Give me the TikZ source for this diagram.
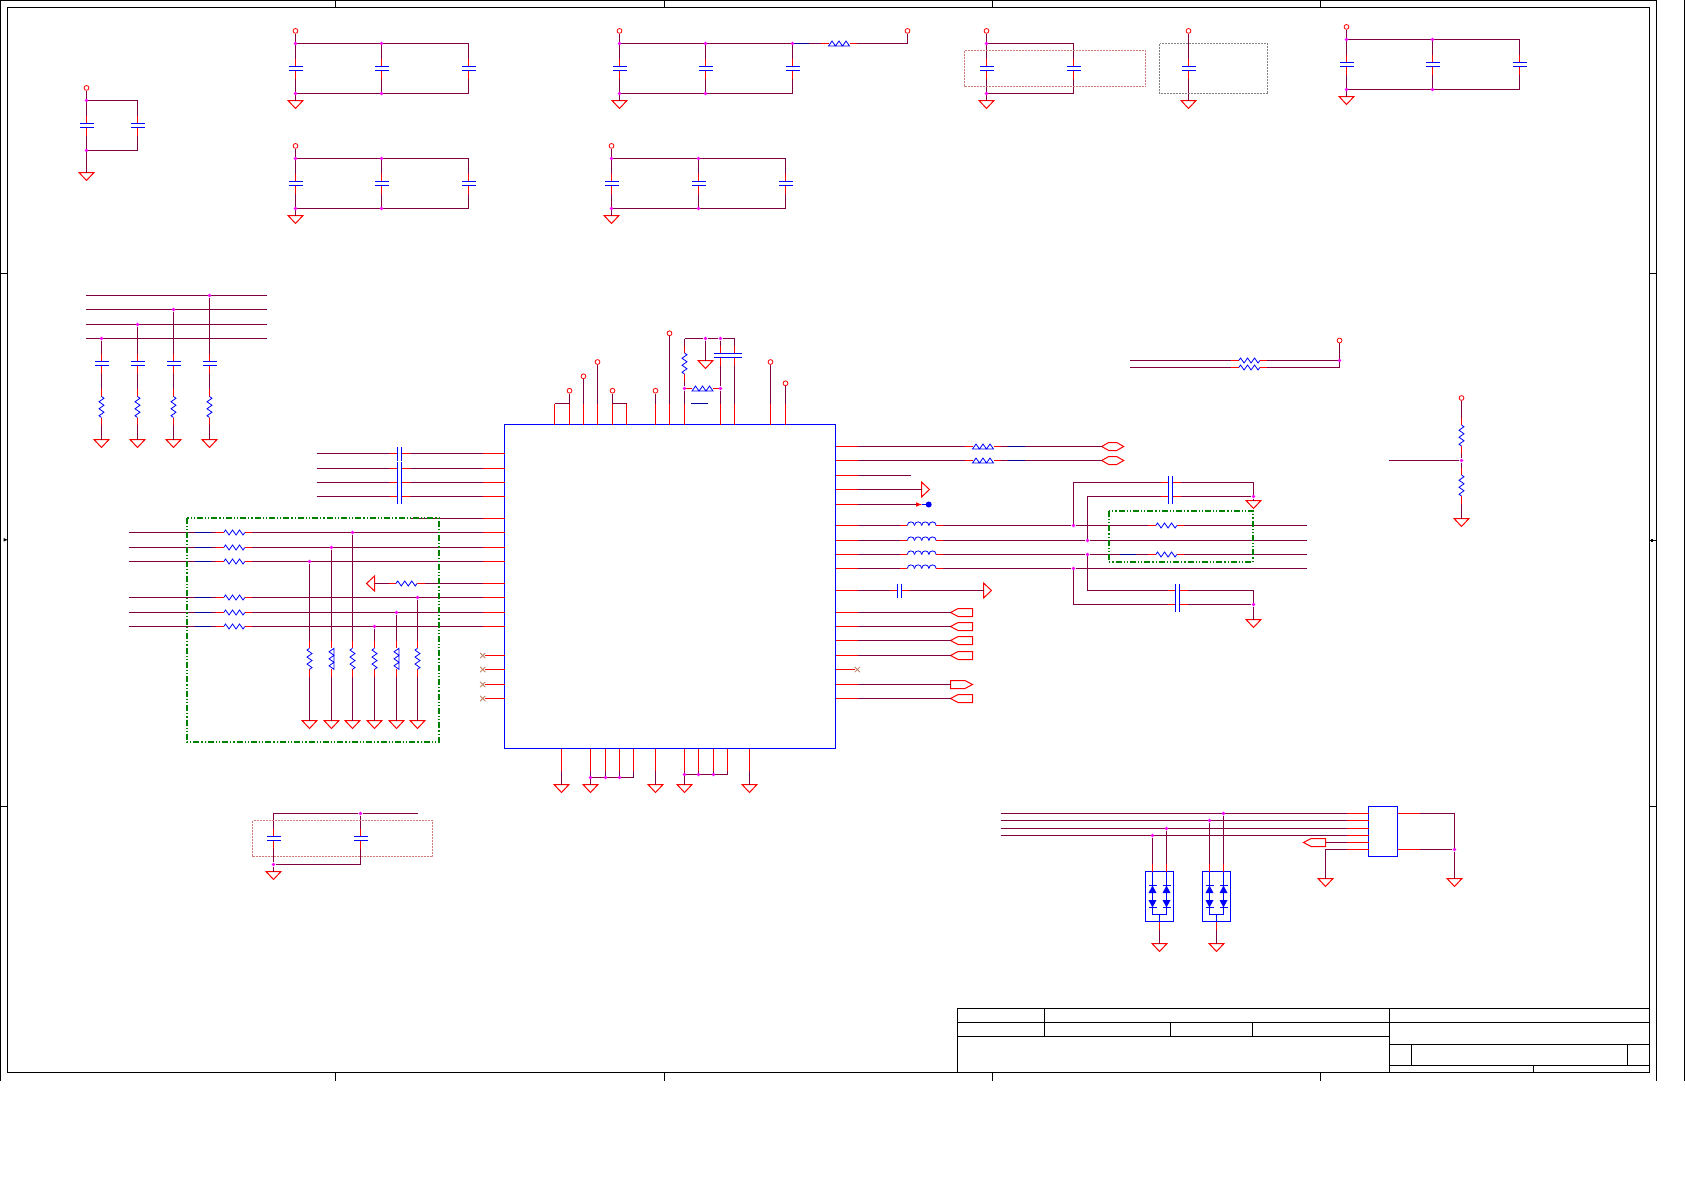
\documentclass[tikz,border=0pt]{standalone}
\usetikzlibrary{shapes.misc}
\pgfdeclarelayer{front}
\pgfsetlayers{main,front}
\definecolor{wirecol}{RGB}{128,0,64}
\definecolor{juncol}{RGB}{255,0,255}
\definecolor{gboxcol}{RGB}{0,128,0}
\definecolor{nccol}{RGB}{190,130,100}
\tikzset{
  wire/.style={draw=wirecol,line width=1pt},
  stub/.style={draw=red,line width=1pt},
  part/.style={draw=blue,line width=.8pt},
  plate/.style={draw=blue,line width=1pt},
  bar/.style={draw=blue!60!black,line width=1pt},
  outline/.style={draw=black,line width=1pt},
  gbox/.style={draw=gboxcol,line width=2pt,dash pattern=on 6pt off 2pt on 1.2pt off 2pt on 1.2pt off 2pt},
  pinkbox/.style={draw=red!50!gray!70,line width=1pt,dash pattern=on 2pt off 1pt},
  graybox/.style={draw=gray,line width=1pt,dash pattern=on 2pt off 1pt},
  term/.style={circle,draw=red,line width=.8pt,minimum size=4.8pt,inner sep=0pt},
  junc/.style={circle,fill=juncol,minimum size=3.8pt,inner sep=0pt},
  ncx/.style={cross out,draw=nccol,line width=.8pt,minimum size=4.5pt,inner sep=0pt},
  chip/.style={draw=blue,line width=1pt,inner sep=0pt,outer sep=0pt},
  vert/.style={rotate=-90},
  pics/capa/.style={code={
    \draw[stub] (-10,0) -- (-2,0) (2,0) -- (10,0);
    \draw[plate] (-2,-7) -- (-2,7) (2,-7) -- (2,7);
    \coordinate (-a) at (-10,0);
    \coordinate (-b) at (10,0);
  }},
  pics/resi/.style={code={
    \draw[stub] (-18,0) -- (-10.5,0) (10.5,0) -- (18,0);
    \draw[part] (-10.5,0) -- (-8.75,-2.5) -- (-5.25,2.5) -- (-1.75,-2.5) -- (1.75,2.5) -- (5.25,-2.5) -- (8.75,2.5) -- (10.5,0);
    \coordinate (-a) at (-18,0);
    \coordinate (-b) at (18,0);
  }},
  pics/rail/.style={code={
    \draw[stub] (-18,0) -- (-10.5,0) (10.5,0) -- (18,0);
    \draw[part] (-10.5,2.5) -- (-7,-2.5) -- (-3.5,2.5) -- (0,-2.5) -- (3.5,2.5) -- (7,-2.5) -- (10.5,2.5) -- cycle;
    \coordinate (-a) at (-18,0);
    \coordinate (-b) at (18,0);
  }},
  pics/coil/.style={code={
    \draw[stub] (-21.5,0) -- (-14.4,0) (14.4,0) -- (21.5,0);
    \foreach \k in {-14.4,-7.2,0,7.2}
      \draw[part] (\k,0) .. controls (\k,-4.8) and (\k+7.2,-4.8) .. (\k+7.2,0);
    \coordinate (-a) at (-21.5,0);
    \coordinate (-b) at (21.5,0);
  }},
  pics/tri/.style={code={
    \draw[stub] (0,-7.5) -- (0,7.5) -- (8,0) -- cycle;
    \coordinate (-a) at (0,0);
  }},
  pics/portl/.style={code={
    \draw[stub] (0,0) -- (7.6,-4) -- (22,-4) -- (22,4) -- (7.6,4) -- cycle;
    \coordinate (-a) at (0,0);
    \coordinate (-b) at (22,0);
  }},
  pics/porth/.style={code={
    \draw[stub] (0,0) -- (7,-4) -- (15,-4) -- (22,0) -- (15,4) -- (7,4) -- cycle;
    \coordinate (-a) at (0,0);
  }},
  pics/tvs/.style={code={
    \draw[plate] (-7,-25) -- (-7,18) -- (7,18) -- (7,-25) (0,18) -- (0,25);
    \foreach \k in {-7,7} {
      \fill[blue] (\k,-11) -- (\k+4,-3.5) -- (\k-4,-3.5) -- cycle;
      \fill[blue] (\k,11) -- (\k+4,3.5) -- (\k-4,3.5) -- cycle;
      \draw[plate] (\k-4,-11) -- (\k+4,-11) (\k-4,11) -- (\k+4,11);
    }
  }},
}
\newcommand{\junc}[2]{\begin{pgfonlayer}{front}\node[junc] (#1) at (#2) {};\end{pgfonlayer}}
\newcommand{\capbank}[4][57]{%
  \foreach \cx [count=\ci, remember=\ci as \cp (initially 0)] in {#4} {
    \coordinate (#2t\ci) at (\cx,#3);
    \coordinate (#2b\ci) at (\cx,#3+50);
    \pic[vert] (#2c\ci) at (\cx,#3+25) {capa};
    \draw[wire] (#2t\ci) -- (#2c\ci-a) (#2c\ci-b) -- (#2b\ci);
    \ifnum\ci=1
      \node[term] (#2v) at (\cx,#3-12.6) {};
      \pic[vert] (#2g) at (\cx,#3+#1) {tri};
      \draw[wire] (#2v) -- (#2t\ci) (#2b\ci) -- (#2g-a);
    \else
      \draw[wire] (#2t\cp) -- (#2t\ci) (#2b\cp) -- (#2b\ci);
      \junc{#2jt\cp}{#2t\cp}
      \junc{#2jb\cp}{#2b\cp}
    \fi
  }%
}
\begin{document}
\begin{tikzpicture}[x=1pt,y=-1pt]
  \path[fill=white,use as bounding box] (0,0) rectangle (1685,1191);

  \draw[outline] (7.5,7.5) rectangle (1649.5,1072.5);
  \draw[outline] (0.5,1080.5) -- (0.5,0.5) -- (1656.5,0.5) -- (1656.5,1080.5);
  \draw[outline] (1684.5,0) -- (1684.5,1080.5);
  \foreach \x in {335.5,664.5,992.5,1320.5}
    \draw[outline] (\x,0.5) -- (\x,7.5) (\x,1072.5) -- (\x,1080.5);
  \foreach \y in {273.5,806.5}
    \draw[outline] (0.5,\y) -- (7.5,\y) (1649.5,\y) -- (1656.5,\y);
  \fill (3.5,538) -- (7.5,539.8) -- (3.5,541.6) -- cycle;
  \draw[outline] (1649.5,540.5) -- (1656.5,540.5);
  \fill (1650.5,539) rectangle (1653,542);

  \draw[outline] (957.5,1008.5) rectangle (1649.5,1072.5);
  \draw[outline] (957.5,1022.5) -- (1649.5,1022.5);
  \draw[outline] (957.5,1036.5) -- (1389.5,1036.5);
  \draw[outline] (1044.5,1008.5) -- (1044.5,1036.5);
  \draw[outline] (1170.5,1022.5) -- (1170.5,1036.5);
  \draw[outline] (1252.5,1022.5) -- (1252.5,1036.5);
  \draw[outline] (1389.5,1008.5) -- (1389.5,1072.5);
  \draw[outline] (1389.5,1044.5) -- (1649.5,1044.5);
  \draw[outline] (1389.5,1065.5) -- (1649.5,1065.5);
  \draw[outline] (1411.5,1044.5) -- (1411.5,1065.5);
  \draw[outline] (1627.5,1044.5) -- (1627.5,1065.5);
  \draw[outline] (1533.5,1065.5) -- (1533.5,1072.5);

  \capbank[72]{ga}{100.5}{86.5,137.5}
  \capbank{gb}{43.5}{295.5,381.5,468.5}
  \capbank{gc}{158.5}{295.5,381.5,468.5}
  \capbank{gd}{43.5}{619.5,705.5,792.5}
  \capbank{ge}{158.5}{611.5,698.5,785.5}
  \capbank{gf}{43.5}{986.5,1073.5}
  \capbank{gh}{39.5}{1346.5,1432.5,1519.5}
  \capbank{gi}{43.5}{1188.5}

  \junc{gdj}{gdt3}
  \pic (gdl) at (839,43.5) {rail};
  \coordinate (gde) at (907.5,43.5);
  \node[term] (gdo) at (907.5,30.9) {};
  \draw[wire] (gdj) -- (gdl-a) (gdl-b) -- (gde) -- (gdo);
  \draw[bar] (792.5,43.5) -- (809,43.5);
  \draw[pinkbox] (964.5,50.5) rectangle (1145.5,86.5);
  \draw[graybox] (1159.5,43.5) rectangle (1267.5,93.5);

  \foreach \y/\x [count=\i] in {295.5/209.5,309.5/173.5,324.5/137.5,338.5/101.5} {
    \coordinate (bl\i) at (86,\y);
    \coordinate (br\i) at (267,\y);
    \junc{bj\i}{\x,\y}
    \pic[vert] (bc\i) at (\x,363.5) {capa};
    \pic[vert] (bq\i) at (\x,407) {resi};
    \pic[vert] (bg\i) at (\x,439.5) {tri};
    \draw[wire] (bl\i) -- (br\i);
    \draw[wire] (bj\i) -- (bc\i-a) (bc\i-b) -- (bq\i-a) (bq\i-b) -- (bg\i-a);
  }

  \node[chip,minimum width=331pt,minimum height=324pt] (u1) at (670,586.5) {};

  \foreach \y/\x/\k [count=\i] in {532.5/352.5/resi,547.5/331.5/rail,561.5/309.5/resi,597.5/417.5/resi,612.5/396.5/rail,626.5/374.5/resi} {
    \coordinate (la\i) at (129.3,\y);
    \pic (lr\i) at (234.3,\y) {resi};
    \draw[stub] (u1.west |- 0,\y) -- ++(-22,0) coordinate (lp\i);
    \draw[wire] (la\i) -- (lr\i-a) (lr\i-b) -- (lp\i);
    \draw[bar] (195,\y) -- (211,\y);
    \junc{lj\i}{\x,\y}
    \pic[vert,yscale=-1] (lv\i) at (\x,658.8) {\k};
    \pic[vert] (lg\i) at (\x,720.5) {tri};
    \draw[wire] (lj\i) -- (lv\i-a) (lv\i-b) -- (lg\i-a);
  }

  \foreach \y [count=\i] in {453.5,468.5,482.5,496.5} {
    \coordinate (ca\i) at (316.7,\y);
    \pic (cc\i) at (399.5,\y) {capa};
    \draw[stub] (u1.west |- 0,\y) -- ++(-22,0) coordinate (cp\i);
    \draw[wire] (ca\i) -- (cc\i-a) (cc\i-b) -- (cp\i);
  }
  \coordinate (sa) at (410,518.5);
  \draw[stub] (u1.west |- 0,518.5) -- ++(-22,0) coordinate (sp);
  \draw[wire] (sa) -- (sp);
  \pic[rotate=180] (st) at (374.5,583.5) {tri};
  \pic (sr) at (406.5,583.5) {resi};
  \draw[stub] (u1.west |- 0,583.5) -- ++(-22,0) coordinate (sq);
  \draw[wire] (st-a) -- (sr-a) (sr-b) -- (sq);
  \foreach \y [count=\i] in {655.5,669.5,684.5,698.5} {
    \node[ncx] (nl\i) at (482.7,\y) {};
    \draw[stub] (u1.west |- 0,\y) -- (nl\i);
  }
  \draw[gbox] (187,518) rectangle (439,742);

  \foreach \x/\y [count=\i] in {569.5/390.7,583.5/376.3,597.5/362,612.5/390.7,655.5/390.7,669.5/333.3,770.5/362,785.5/383.3} {
    \node[term] (tv\i) at (\x,\y) {};
    \draw[stub] (u1.north -| \x,0) -- ++(0,-21) coordinate (tp\i);
    \draw[wire] (tp\i) -- (tv\i);
  }
  \draw[stub] (u1.north -| 554.5,0) -- (554.5,403.5) coordinate (tq1);
  \draw[stub] (u1.north -| 626.5,0) -- (626.5,403.5) coordinate (tq2);
  \draw[wire] (tq1) -- (tp1) (tq2) -- (tp4);
  \coordinate (va) at (684.5,338.5);
  \junc{vj1}{705.5,338.5}
  \junc{vj2}{720.5,338.5}
  \coordinate (vb) at (734.5,338.5);
  \draw[wire] (va) -- (vj1) -- (vj2) -- (vb);
  \pic[vert] (vg) at (705.5,360.5) {tri};
  \draw[wire] (vj1) -- (vg-a);
  \pic[vert] (vr) at (684.5,363.5) {resi};
  \pic[vert] (vc1) at (720.5,355.5) {capa};
  \pic[vert] (vc2) at (734.5,355.5) {capa};
  \junc{vj3}{684.5,388.5}
  \junc{vj4}{720.5,388.5}
  \pic (vl) at (702.5,388.5) {rail};
  \draw[stub] (u1.north -| 684.5,0) -- ++(0,-21) coordinate (vp1);
  \draw[stub] (u1.north -| 720.5,0) -- ++(0,-21) coordinate (vp2);
  \draw[stub] (u1.north -| 734.5,0) -- ++(0,-21) coordinate (vp3);
  \draw[wire] (va) -- (vr-a) (vr-b) -- (vj3) -- (vp1);
  \draw[wire] (vj2) -- (vc1-a) (vc1-b) -- (vj4) -- (vp2);
  \draw[wire] (vb) -- (vc2-a) (vc2-b) -- (vp3);
  \draw[bar] (691,403.5) -- (708,403.5);

  \foreach \x [count=\i] in {561.5,655.5,749.5} {
    \pic[vert] (fg\i) at (\x,784.5) {tri};
    \draw[stub] (u1.south -| \x,0) -- ++(0,22) coordinate (fp\i);
    \draw[wire] (fp\i) -- (fg\i-a);
  }
  \foreach \x [count=\i] in {590.5,605.5,619.5,633.5} {
    \coordinate (fa\i) at (\x,777.5);
    \draw[stub] (u1.south -| \x,0) -- ++(0,22) coordinate (fq\i);
    \draw[wire] (fq\i) -- (fa\i);
  }
  \foreach \x [count=\i] in {684.5,698.5,713.5,727.5} {
    \coordinate (fb\i) at (\x,774.5);
    \draw[stub] (u1.south -| \x,0) -- ++(0,22) coordinate (fr\i);
    \draw[wire] (fr\i) -- (fb\i);
  }
  \draw[wire] (fa1) -- (fa4) (fb1) -- (fb4);
  \foreach \i in {1,2,3} {
    \junc{fja\i}{fa\i}
    \junc{fjb\i}{fb\i}
  }
  \pic[vert] (fgl) at (590.5,784.5) {tri};
  \pic[vert] (fgr) at (684.5,784.5) {tri};
  \draw[wire] (fa1) -- (fgl-a) (fb1) -- (fgr-a);

  \foreach \y [count=\i] in {446.5,460.5} {
    \draw[stub] (u1.east |- 0,\y) -- ++(22,0) coordinate (rp\i);
    \pic (rr\i) at (983,\y) {rail};
    \pic (rh\i) at (1101.7,\y) {porth};
    \draw[wire] (rp\i) -- (rr\i-a) (rr\i-b) -- (rh\i-a);
    \draw[bar] (1007.7,\y) -- (1025,\y);
  }
  \draw[stub] (u1.east |- 0,475.5) -- ++(22,0) coordinate (rs1);
  \coordinate (re1) at (911,475.5);
  \draw[wire] (rs1) -- (re1);
  \draw[stub] (u1.east |- 0,489.5) -- ++(22,0) coordinate (rs2);
  \pic (rt1) at (921.5,489.5) {tri};
  \draw[wire] (rs2) -- (rt1-a);
  \draw[stub] (u1.east |- 0,504.5) -- ++(22,0) coordinate (rs3);
  \coordinate (re3) at (916,504.5);
  \coordinate (rf3) at (922,504.5);
  \node[circle,fill=blue,minimum size=6pt,inner sep=0pt] (rd3) at (928.7,504.5) {};
  \draw[wire] (rs3) -- (re3);
  \draw[stub,-latex] (re3) -- (rf3);
  \draw[plate] (rf3) -- (rd3);

  \foreach \y/\x [count=\i] in {525.5/1073.5,540.5/1087.5,554.5/1087.5,568.5/1073.5} {
    \draw[stub] (u1.east |- 0,\y) -- ++(22,0) coordinate (kp\i);
    \pic (kl\i) at (921.7,\y) {coil};
    \junc{kj\i}{\x,\y}
    \coordinate (ke\i) at (1307,\y);
    \draw[wire] (kp\i) -- (kl\i-a) (kl\i-b) -- (kj\i);
  }
  \pic (kr1) at (1166.3,525.5) {resi};
  \pic (kr2) at (1166.3,554.5) {resi};
  \draw[wire] (kj1) -- (kr1-a) (kr1-b) -- (ke1) (kj2) -- (ke2);
  \draw[wire] (kj3) -- (kr2-a) (kr2-b) -- (ke3) (kj4) -- (ke4);
  \draw[bar] (1120,554.5) -- (1136,554.5);
  \pic (ec1) at (1170.5,482.5) {capa};
  \pic (ec2) at (1170.5,496.5) {capa};
  \pic (ec3) at (1177.5,590.5) {capa};
  \pic (ec4) at (1177.5,604.5) {capa};
  \junc{ej1}{1253.5,496.5}
  \junc{ej2}{1253.5,604.5}
  \pic[vert] (eg1) at (1253.5,500.5) {tri};
  \pic[vert] (eg2) at (1253.5,619.5) {tri};
  \draw[wire] (kj1.center) |- (ec1-a);
  \draw[wire] (kj2.center) |- (ec2-a);
  \draw[wire] (kj3.center) |- (ec3-a);
  \draw[wire] (kj4.center) |- (ec4-a);
  \draw[wire] (ec1-b) -| (ej1.center);
  \draw[wire] (ec2-b) -- (ej1) -- (eg1-a);
  \draw[wire] (ec3-b) -| (ej2.center);
  \draw[wire] (ec4-b) -- (ej2) -- (eg2-a);
  \draw[gbox] (1109,511) rectangle (1253,562);

  \draw[stub] (u1.east |- 0,590.5) -- ++(22,0) coordinate (mp);
  \pic (mc) at (899.5,590.5) {capa};
  \pic (mt) at (983.5,590.5) {tri};
  \draw[wire] (mp) -- (mc-a) (mc-b) -- (mt-a);

  \foreach \y [count=\i] in {612.5,626.5,640.5,655.5,698.5} {
    \draw[stub] (u1.east |- 0,\y) -- ++(22,0) coordinate (op\i);
    \pic (ol\i) at (950.5,\y) {portl};
    \draw[wire] (op\i) -- (ol\i-a);
  }
  \draw[stub] (u1.east |- 0,684.5) -- ++(22,0) coordinate (oq);
  \pic[rotate=180] (or) at (972.5,684.5) {portl};
  \draw[wire] (oq) -- (or-b);
  \node[ncx] (nr) at (857.3,669.5) {};
  \draw[stub] (u1.east |- 0,669.5) -- (nr);

  \foreach \y [count=\i] in {360.5,367.5} {
    \coordinate (qa\i) at (1130,\y);
    \pic (qr\i) at (1249.3,\y) {resi};
    \coordinate (qe\i) at (1339.5,\y);
    \draw[wire] (qa\i) -- (qr\i-a) (qr\i-b) -- (qe\i);
  }
  \node[term] (qv) at (1339.5,340.5) {};
  \draw[wire] (qv) -- (qe2);
  \junc{qj}{qe1}

  \node[term] (pv) at (1461.5,398) {};
  \pic[vert] (pr1) at (1461.5,435.5) {resi};
  \junc{pj}{1461.5,460.5}
  \pic[vert] (pr2) at (1461.5,485.5) {resi};
  \pic[vert] (pg) at (1461.5,518.5) {tri};
  \coordinate (pa) at (1389.3,460.5);
  \draw[wire] (pv) -- (pr1-a) (pr1-b) -- (pj) -- (pr2-a) (pr2-b) -- (pg-a) (pa) -- (pj);

  \pic[vert] (hc1) at (273.5,838.5) {capa};
  \pic[vert] (hc2) at (360.5,838.5) {capa};
  \coordinate (ht) at (273.5,813.5);
  \junc{hj1}{360.5,813.5}
  \coordinate (he) at (417.5,813.5);
  \junc{hj2}{273.5,864.5}
  \coordinate (hb) at (360.5,864.5);
  \pic[vert] (hg) at (273.5,871.5) {tri};
  \draw[wire] (he) -- (hj1) -- (ht) -- (hc1-a) (hc1-b) -- (hj2) -- (hg-a);
  \draw[wire] (hj1) -- (hc2-a) (hc2-b) -- (hb) -- (hj2);
  \draw[pinkbox] (252.5,820.5) rectangle (432.5,856.5);

  \node[chip,minimum width=29pt,minimum height=50pt] (u2) at (1383,831.5) {};
  \foreach \y [count=\i] in {813.5,820.5,828.5,835.5} {
    \coordinate (za\i) at (1000.7,\y);
    \draw[stub] (u2.west |- 0,\y) -- ++(-22,0) coordinate (zp\i);
    \draw[wire] (za\i) -- (zp\i);
  }
  \draw[stub] (u2.west |- 0,842.5) -- ++(-22,0) coordinate (zp5);
  \pic (zo) at (1303.5,842.5) {portl};
  \draw[wire] (zp5) -- (zo-b);
  \draw[stub] (u2.west |- 0,849.5) -- ++(-22,0) coordinate (zp6);
  \pic[vert] (zg1) at (1325.5,878.5) {tri};
  \draw[wire] (zp6) -| (zg1-a);
  \draw[stub] (u2.east |- 0,813.5) -- ++(22,0) coordinate (zq1);
  \draw[stub] (u2.east |- 0,849.5) -- ++(22,0) coordinate (zq2);
  \junc{zj}{1454.5,849.5}
  \pic[vert] (zg2) at (1454.5,878.5) {tri};
  \draw[wire] (zq1) -| (zj.center) (zq2) -- (zj) -- (zg2-a);

  \node[chip,minimum width=28pt,minimum height=50pt] (d1) at (1159.5,896.5) {};
  \node[chip,minimum width=28pt,minimum height=50pt] (d2) at (1216.5,896.5) {};
  \pic at (d1) {tvs};
  \pic at (d2) {tvs};
  \foreach \x/\y/\d [count=\i] in {1152.5/835.5/d1,1166.5/828.5/d1,1209.5/820.5/d2,1223.5/813.5/d2} {
    \junc{tj\i}{\x,\y}
    \coordinate (tb\i) at (\x,863.5);
    \draw[wire] (tj\i) -- (tb\i);
    \draw[stub] (tb\i) -- (\d.north -| \x,0);
  }
  \foreach \d in {d1,d2} {
    \draw[stub] (\d.south) -- ++(0,8.5) coordinate (\d s);
    \pic[vert] (\d g) at (\d.south |- 0,943.5) {tri};
    \draw[wire] (\d s) -- (\d g-a);
  }
\end{tikzpicture}
\end{document}
